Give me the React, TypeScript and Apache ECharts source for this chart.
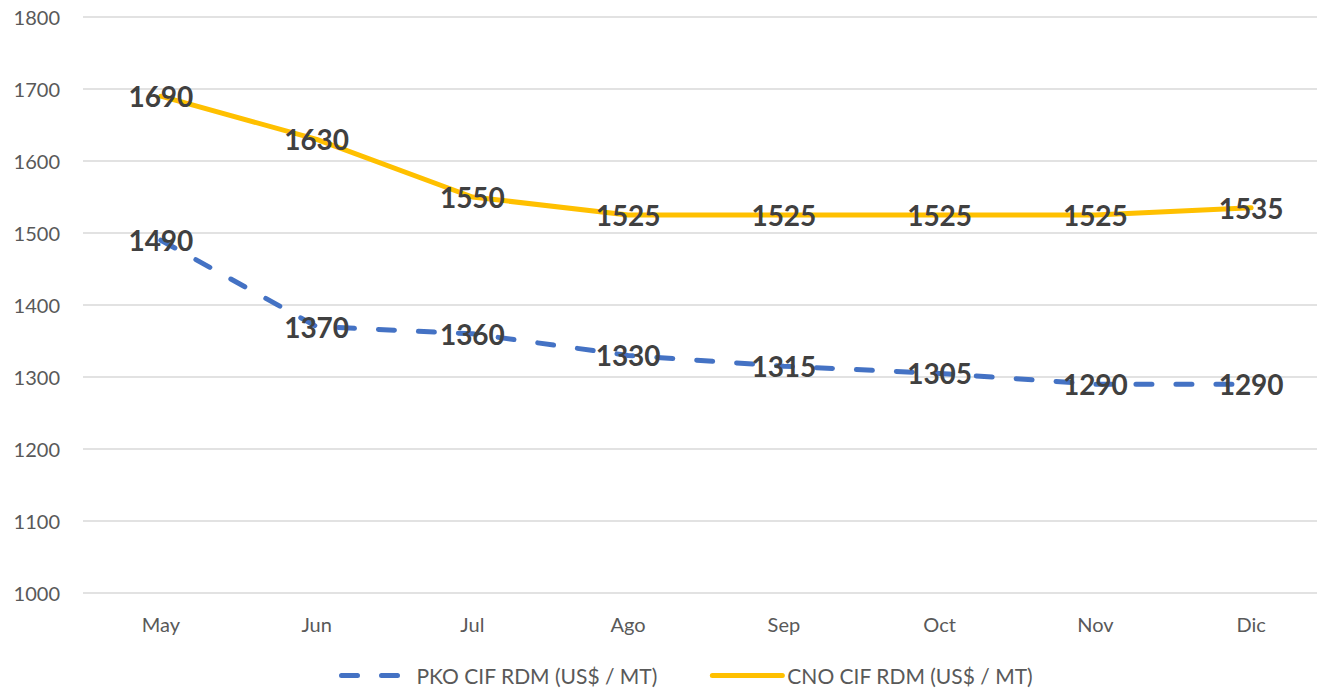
import React, { useEffect, useRef } from "react";
import * as echarts from "echarts";

const categories = ["May", "Jun", "Jul", "Ago", "Sep", "Oct", "Nov", "Dic"];
const pkoValues = [1490, 1370, 1360, 1330, 1315, 1305, 1290, 1290];
const cnoValues = [1690, 1630, 1550, 1525, 1525, 1525, 1525, 1535];
const pkoName = "PKO CIF RDM (US$ / MT)";
const cnoName = "CNO CIF RDM (US$ / MT)";

export default function App() {
  const ref = useRef<HTMLDivElement>(null);
  useEffect(() => {
    if (!ref.current) return;
    const chart = echarts.init(ref.current, null, { renderer: "svg" });
    const font = "Lato, 'Open Sans', sans-serif";
    const label = {
      show: true,
      position: "inside",
      color: "#404040",
      fontSize: 28,
      fontWeight: "bold",
      fontFamily: font,
    };
    chart.setOption({
      animation: false,
      grid: { left: 83, top: 17, right: 0, bottom: 98, containLabel: false },
      xAxis: {
        type: "category",
        data: categories,
        boundaryGap: true,
        axisLine: { show: false },
        axisTick: { show: false },
        axisLabel: { color: "#595959", fontSize: 20, fontFamily: font, margin: 21 },
      },
      yAxis: {
        type: "value",
        min: 1000,
        max: 1800,
        interval: 100,
        axisLine: { show: false },
        axisTick: { show: false },
        axisLabel: {
          color: "#595959",
          fontSize: 20,
          fontFamily: font,
          margin: 23,
          formatter: (v: number) => String(v),
        },
        splitLine: { lineStyle: { color: "#d9d9d9", width: 1.5 } },
      },
      legend: {
        bottom: 0,
        left: 334,
        itemWidth: 70,
        itemHeight: 10,
        itemGap: 52,
        itemStyle: { opacity: 0 },
        lineStyle: { width: 5 },
        textStyle: { color: "#595959", fontSize: 21, fontFamily: font },
        data: [pkoName, cnoName],
      },
      series: [
        {
          name: pkoName,
          type: "line",
          data: pkoValues,
          symbol: "circle",
          symbolSize: 0,
          itemStyle: { color: "#4472C4" },
          lineStyle: { color: "#4472C4", width: 5, type: [16, 24], cap: "round" },
          label,
        },
        {
          name: cnoName,
          type: "line",
          data: cnoValues,
          symbol: "circle",
          symbolSize: 0,
          itemStyle: { color: "#FFC000" },
          lineStyle: { color: "#FFC000", width: 5, cap: "round" },
          label,
        },
      ],
    });
    return () => chart.dispose();
  }, []);
  return (
    <div
      style={{ position: "absolute", left: 0, top: 0, width: 1317, height: 691, overflow: "hidden" }}
    >
      <div ref={ref} style={{ width: 1329, height: 691 }} />
    </div>
  );
}
